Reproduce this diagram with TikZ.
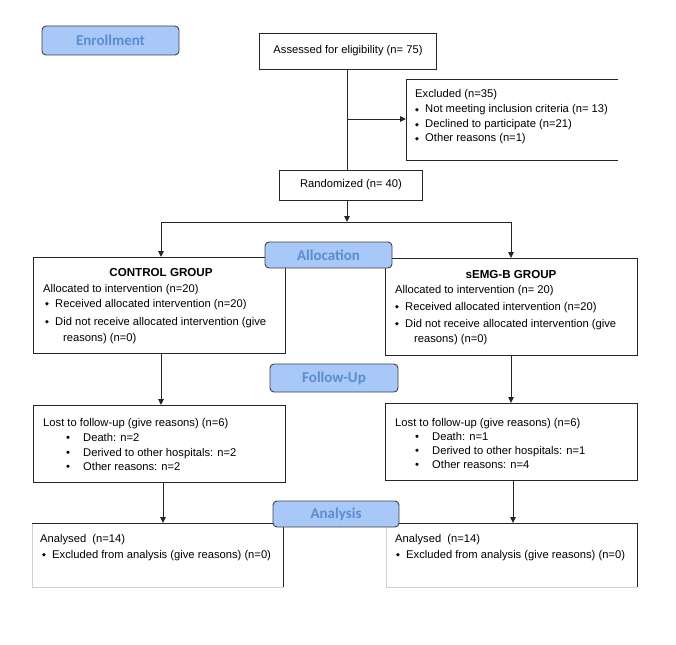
\documentclass[tikz,border=0pt]{standalone}
\usepackage{fontspec}
\setmainfont{Liberation Sans}
\newfontfamily\phasefont{Carlito}
\newfontfamily\symfont{DejaVu Sans}
\usetikzlibrary{arrows.meta}
\definecolor{phasefill}{HTML}{A8C8F8}
\definecolor{phasetext}{HTML}{5A8DD0}
\definecolor{lightedge}{HTML}{CFCFCF}
\newcommand{\dbul}{\makebox[10pt][l]{\raisebox{1.6pt}{\symfont\fontsize{5}{5}\selectfont ◆}}}
\newcommand{\rbul}{\makebox[17pt][l]{•}}
\begin{document}
\begin{tikzpicture}[x=1pt,y=-1pt,
  box/.style={draw=black!85,line width=0.9pt,inner sep=0pt,anchor=north west},
  openbox/.style={inner sep=0pt,anchor=north west},
  phase/.style={draw=black!75,line width=0.9pt,fill=phasefill,rounded corners=4pt,
    text=phasetext,font=\phasefont\bfseries\fontsize{15}{17}\selectfont,inner sep=0pt},
  txt/.style={anchor=base west,inner sep=0pt,font=\fontsize{11.2}{13}\selectfont},
  ctxt/.style={anchor=base,inner sep=0pt,font=\fontsize{11.6}{13}\selectfont\bfseries},
  arr/.style={-{Triangle[length=6pt,width=5.5pt]},line width=0.9pt,draw=black!85},
  ln/.style={line width=0.9pt,draw=black!85},
  lite/.style={line width=0.9pt,draw=lightedge}]
\useasboundingbox (0,0) rectangle (676,644);

% ---- boxes ----
\node[box,minimum width=177pt,minimum height=36pt] (assess) at (259,33) {};
\node[anchor=center,inner sep=0pt,font=\fontsize{11.2}{13}\selectfont] (assesst) at (348,51) {Assessed for eligibility (n= 75)};

\node[openbox,minimum width=212pt,minimum height=81pt] (excl) at (406,79) {};
\draw[ln] (excl.north east) -- (excl.north west) -- (excl.south west) -- (excl.south east);
\node[txt] (ex1) at (415,98) {Excluded (n=35)};
\node[txt] (ex2) at (415,113) {\dbul Not meeting inclusion criteria (n= 13)};
\node[txt] (ex3) at (415,128) {\dbul Declined to participate (n=21)};
\node[txt] (ex4) at (415,142) {\dbul Other reasons (n=1)};

\node[box,minimum width=143pt,minimum height=30pt] (rand) at (279,170) {};
\node[anchor=center,inner sep=0pt,font=\fontsize{11.2}{13}\selectfont] (randt) at (351,185) {Randomized (n= 40)};

\node[box,minimum width=252pt,minimum height=96pt] (ctrl) at (33,257) {};
\node[ctxt] (c0) at (161,276) {CONTROL GROUP};
\node[txt] (c1) at (43,292) {Allocated to intervention (n=20)};
\node[txt] (c2) at (45,307.5) {\dbul Received allocated intervention (n=20)};
\node[txt] (c3) at (45,325) {\dbul Did not receive allocated intervention (give};
\node[txt] (c4) at (63,341) {reasons) (n=0)};

\node[box,minimum width=252pt,minimum height=97pt] (semg) at (385,258) {};
\node[ctxt] (s0) at (511,278) {sEMG-B GROUP};
\node[txt] (s1) at (395,293.5) {Allocated to intervention (n= 20)};
\node[txt] (s2) at (395,310) {\dbul Received allocated intervention (n=20)};
\node[txt] (s3) at (395,327) {\dbul Did not receive allocated intervention (give};
\node[txt] (s4) at (414,342) {reasons) (n=0)};

\node[box,minimum width=252pt,minimum height=77pt] (lostl) at (33,405) {};
\node[txt] (l1) at (43,426) {Lost to follow-up (give reasons) (n=6)};
\node[txt] (l2) at (66,441) {\rbul Death: n=2};
\node[txt] (l3) at (66,456) {\rbul Derived to other hospitals: n=2};
\node[txt] (l4) at (66,470) {\rbul Other reasons: n=2};

\node[box,minimum width=252pt,minimum height=77pt] (lostr) at (385,403) {};
\node[txt] (r1) at (395,426) {Lost to follow-up (give reasons) (n=6)};
\node[txt] (r2) at (415,440) {\rbul Death: n=1};
\node[txt] (r3) at (415,454) {\rbul Derived to other hospitals: n=1};
\node[txt] (r4) at (415,468) {\rbul Other reasons: n=4};

\node[openbox,minimum width=251pt,minimum height=64pt] (anal) at (32,523) {};
\draw[lite] (anal.north west) -- (anal.south west) -- (anal.south east);
\draw[ln] (anal.south east) -- (anal.north east) -- (anal.north west);
\node[txt] (a1) at (40,542) {Analysed\ \ (n=14)};
\node[txt] (a2) at (42,558) {\dbul Excluded from analysis (give reasons) (n=0)};

\node[openbox,minimum width=251pt,minimum height=64pt] (anar) at (386,523) {};
\draw[lite] (anar.north west) -- (anar.south west) -- (anar.south east);
\draw[ln] (anar.south east) -- (anar.north east) -- (anar.north west);
\node[txt] (b1) at (395,542) {Analysed\ \ (n=14)};
\node[txt] (b2) at (396,558) {\dbul Excluded from analysis (give reasons) (n=0)};

% ---- connectors ----
\coordinate (ax) at (347,0);
\coordinate (exj) at (347,119);
\coordinate (split) at (347,222);
\coordinate (cl) at (161,222);
\coordinate (cr) at (511,222);
\draw[ln] (assess.south -| ax) -- (rand.north -| ax);
\draw[arr] (exj) -- (excl.west |- exj);
\draw[arr] (rand.south -| ax) -- (split);
\draw[ln] (cl) -- (cr);
\draw[arr] (cl) -- (ctrl.north -| cl);
\draw[arr] (cr) -- (semg.north -| cr);
\coordinate (lx) at (161,0);
\coordinate (lx2) at (163,0);
\coordinate (rx) at (511,0);
\coordinate (rx2) at (513,0);
\draw[arr] (ctrl.south -| lx) -- (lostl.north -| lx);
\draw[arr] (semg.south -| rx) -- (lostr.north -| rx);
\draw[arr] (lostl.south -| lx2) -- (anal.north -| lx2);
\draw[arr] (lostr.south -| rx2) -- (anar.north -| rx2);

% ---- phase labels ----
\node[phase,minimum width=137pt,minimum height=29pt] (enroll) at (110.5,40.5) {Enrollment};
\node[phase,minimum width=127pt,minimum height=26pt] (alloc) at (328.5,255) {Allocation};
\node[phase,minimum width=128pt,minimum height=28pt] (follow) at (334,378) {Follow-Up};
\node[phase,minimum width=126pt,minimum height=26pt] (analysis) at (336,514) {Analysis};
\end{tikzpicture}
\end{document}
